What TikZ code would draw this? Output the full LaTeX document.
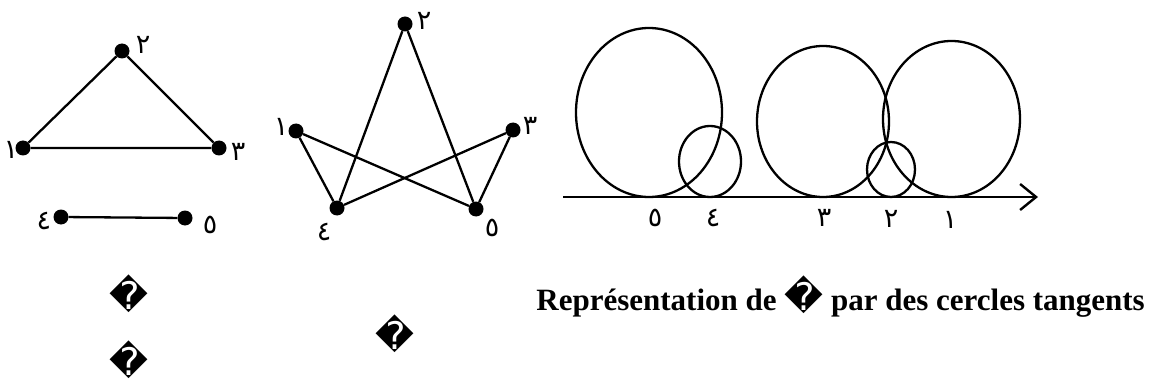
\documentclass[tikz,border=0pt]{standalone}
\usepackage{fontspec}
\setmainfont{Liberation Serif}
\newfontfamily\arabicfont[Script=Arabic]{DejaVu Sans}
\newfontfamily\djv{DejaVu Sans}
\usetikzlibrary{arrows.meta}
\begin{document}
\begin{tikzpicture}[x=1pt,y=-1pt,
  dot/.style={circle,fill=black,inner sep=0pt,minimum size=15pt},
  edge/.style={line width=2.3pt},
  lab/.style={font=\arabicfont\fontsize{27}{27}\selectfont,inner sep=0pt},
  qm/.style={font=\djv\fontsize{38}{38}\selectfont,inner sep=0pt},
  circ/.style={line width=2.3pt}]
\useasboundingbox (0,0) rectangle (1151,385);
% left graph
\node[dot] (l1) at (23,148) {};
\node[dot] (l2) at (122,51) {};
\node[dot] (l3) at (219,148) {};
\node[dot] (l4) at (61,217) {};
\node[dot] (l5) at (185,218) {};
\draw[edge] (l1) -- (l2) -- (l3) -- (l1);
\draw[edge] (l4) -- (l5);
\node[lab] (tl2) at (143,45) {٢};
\node[lab] (tl1) at (11,150) {١};
\node[lab] (tl3) at (238,152) {٣};
\node[lab] (tl4) at (44,221) {٤};
\node[lab] (tl5) at (210,225) {٥};
% middle graph
\node[dot] (m1) at (296,131) {};
\node[dot] (m2) at (405,24) {};
\node[dot] (m3) at (513,130) {};
\node[dot] (m4) at (337,208) {};
\node[dot] (m5) at (476,209) {};
\draw[edge] (m1) -- (m4) -- (m2) -- (m5) -- (m3) -- (m4);
\draw[edge] (m1) -- (m5);
\node[lab] (tm2) at (424,21) {٢};
\node[lab] (tm1) at (281,127) {١};
\node[lab] (tm3) at (530,126) {٣};
\node[lab] (tm4) at (324,232) {٤};
\node[lab] (tm5) at (492,228) {٥};
% circles
\coordinate (a0) at (563,197);
\coordinate (a1) at (1038,197);
\draw[circ] (649,112.5) ellipse [x radius=73, y radius=84.5];
\draw[circ] (710,161.5) ellipse [x radius=31, y radius=35.5];
\draw[circ] (823,121.5) ellipse [x radius=66, y radius=75.5];
\draw[circ] (891,169.5) ellipse [x radius=24, y radius=27.5];
\draw[circ] (951.5,119) ellipse [x radius=68.5, y radius=78];
\draw[line width=2.4pt,-{Straight Barb[length=16pt,width=26pt,line width=2.4pt]}] (a0) -- (a1);
\node[lab] (c5) at (655,218) {٥};
\node[lab] (c4) at (713,218) {٤};
\node[lab] (c3) at (824,218) {٣};
\node[lab] (c2) at (891,219) {٢};
\node[lab] (c1) at (950,220) {١};
% texts
\node[anchor=base east,inner sep=0pt,font=\bfseries\fontsize{31}{31}\selectfont] (title) at (1145,310) {Représentation de {\djv\mdseries\fontsize{38}{38}\selectfont �} par des cercles tangents};
\node[qm] (q1) at (129,294) {�};
\node[qm] (q2) at (395,334) {�};
\node[qm] (q3) at (129,360) {�};
\end{tikzpicture}
\end{document}
